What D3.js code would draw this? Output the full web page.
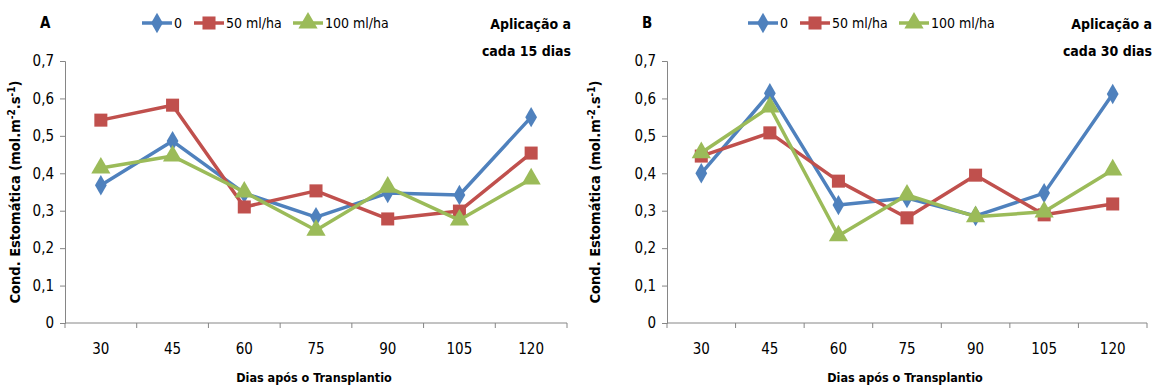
<!DOCTYPE html>
<html>
<head>
<meta charset="utf-8">
<script src="https://cdn.jsdelivr.net/npm/d3@7"></script>
<style>
  body { margin: 0; background: #fff; }
  svg text { font-family: "Liberation Sans Narrow", "DejaVu Sans Condensed", sans-serif; fill: #000; }
</style>
</head>
<body>
<div id="chart"></div>
<script>
(function() {
  var width = 1158,
      height = 387;

  // data
  var days = ["30", "45", "60", "75", "90", "105", "120"];
  var seriesNames = ["0", "50 ml/ha", "100 ml/ha"];
  var yTicks = [0, 0.1, 0.2, 0.3, 0.4, 0.5, 0.6, 0.7];

  var a_0   = [0.368, 0.486, 0.347, 0.283, 0.347, 0.342, 0.550];
  var a_50  = [0.542, 0.582, 0.310, 0.353, 0.278, 0.299, 0.454];
  var a_100 = [0.414, 0.446, 0.350, 0.248, 0.363, 0.275, 0.385];

  var b_0   = [0.400, 0.614, 0.315, 0.334, 0.286, 0.347, 0.612];
  var b_50  = [0.446, 0.508, 0.379, 0.281, 0.395, 0.289, 0.318];
  var b_100 = [0.455, 0.577, 0.233, 0.342, 0.284, 0.297, 0.409];

  var colors = ["#4F81BD", "#C0504D", "#9BBB59"];
  var symbols = [d3.symbolDiamond, d3.symbolSquare, d3.symbolTriangle];
  var symSizes = [120, 170, 160];

  var svg = d3.select("#chart")
    .append("svg")
    .attr("width", width)
    .attr("height", height);

  var panels = [
    { letter: "A", left: 65, right: 567, note: ["Aplicação a", "cada 15 dias"], noteX: 571,
      legendX: 142, ytitleX: 20, series: [a_0, a_50, a_100] },
    { letter: "B", left: 667, right: 1147, note: ["Aplicação a", "cada 30 dias"], noteX: 1152,
      legendX: 748, ytitleX: 600, series: [b_0, b_50, b_100] }
  ];

  var top = 61, bottom = 323;

  panels.forEach(function(p) {
    var g = svg.append("g");

    var x = d3.scaleBand().domain(days).range([p.left, p.right]);
    var y = d3.scaleLinear().domain([0, 0.7]).range([bottom, top]);

    // y axis
    var yAxis = g.append("g")
      .attr("transform", "translate(" + p.left + ",0)")
      .call(d3.axisLeft(y).tickValues(yTicks).tickSize(5).tickPadding(6)
        .tickFormat(function(d) { return d === 0 ? "0" : d3.format(".1f")(d).replace(".", ","); }));
    yAxis.select(".domain").attr("stroke", "#868686");
    yAxis.selectAll("line").attr("stroke", "#868686");
    yAxis.selectAll("text").style("font-size", "15px");

    // x axis: ticks on band boundaries
    var xAxis = g.append("g")
      .attr("transform", "translate(0," + bottom + ")");
    xAxis.append("line")
      .attr("x1", p.left).attr("x2", p.right)
      .attr("stroke", "#868686");
    var bounds = days.map(function(d) { return x(d); }).concat([p.right]);
    xAxis.selectAll(".xt").data(bounds).enter().append("line")
      .attr("x1", function(d) { return d; }).attr("x2", function(d) { return d; })
      .attr("y1", 0).attr("y2", 5)
      .attr("stroke", "#868686");
    xAxis.selectAll(".xl").data(days).enter().append("text")
      .attr("x", function(d) { return x(d) + x.bandwidth() / 2; })
      .attr("y", 31)
      .attr("text-anchor", "middle")
      .style("font-size", "15px")
      .text(function(d) { return d; });

    // lines
    var line = d3.line()
      .x(function(d, i) { return x(days[i]) + x.bandwidth() / 2; })
      .y(function(d) { return y(d); });

    p.series.forEach(function(vals, k) {
      g.append("path")
        .datum(vals)
        .attr("fill", "none")
        .attr("stroke", colors[k])
        .attr("stroke-width", 3.5)
        .attr("stroke-linejoin", "round")
        .attr("d", line);
      g.selectAll(".m" + k).data(vals).enter().append("path")
        .attr("transform", function(d, i) {
          return "translate(" + (x(days[i]) + x.bandwidth() / 2) + "," + y(d) + ")";
        })
        .attr("d", d3.symbol().type(symbols[k]).size(symSizes[k]))
        .attr("fill", colors[k]);
    });

    // letter
    g.append("text")
      .attr("x", p.left - 25).attr("y", 28)
      .style("font-size", "15px").style("font-weight", "bold")
      .text(p.letter);

    // note
    g.append("text")
      .attr("x", p.noteX).attr("y", 29)
      .attr("text-anchor", "end")
      .style("font-size", "14px").style("font-weight", "bold")
      .text(p.note[0]);
    g.append("text")
      .attr("x", p.noteX).attr("y", 56)
      .attr("text-anchor", "end")
      .style("font-size", "14px").style("font-weight", "bold")
      .text(p.note[1]);

    // legend
    var lx = p.legendX;
    var legendGap = [52, 99, 0];
    seriesNames.forEach(function(name, k) {
      var lg = g.append("g").attr("transform", "translate(" + lx + ",23)");
      lg.append("line").attr("x1", 0).attr("x2", 30)
        .attr("stroke", colors[k]).attr("stroke-width", 3.5);
      lg.append("path").attr("transform", "translate(15,0)")
        .attr("d", d3.symbol().type(symbols[k]).size(symSizes[k]))
        .attr("fill", colors[k]);
      lg.append("text").attr("x", 32).attr("y", 5)
        .style("font-size", "14px")
        .text(name);
      lx += legendGap[k];
    });

    // axis titles
    g.append("text")
      .attr("x", (p.left + p.right) / 2 - 2).attr("y", 382)
      .attr("text-anchor", "middle")
      .style("font-size", "12.5px").style("font-weight", "bold")
      .text("Dias após o Transplantio");

    var yt = g.append("text")
      .attr("transform", "translate(" + p.ytitleX + "," + ((top + bottom) / 2) + ") rotate(-90)")
      .attr("text-anchor", "middle")
      .style("font-size", "14.5px").style("font-weight", "bold");
    yt.append("tspan").text("Cond. Estomática (mol.m");
    yt.append("tspan").attr("dy", -5).style("font-size", "10px").text("-2");
    yt.append("tspan").attr("dy", 5).text(".s");
    yt.append("tspan").attr("dy", -5).style("font-size", "10px").text("-1");
    yt.append("tspan").attr("dy", 5).text(")");
  });
})();
</script>
</body>
</html>
